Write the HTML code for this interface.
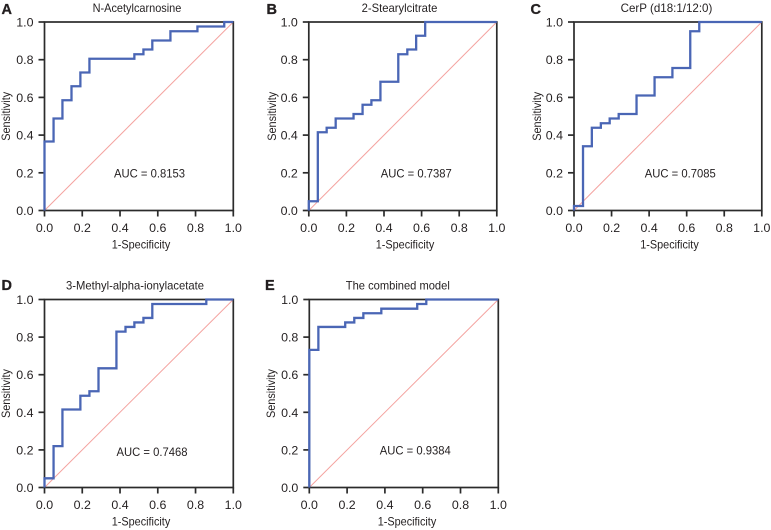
<!DOCTYPE html>
<html>
<head>
<meta charset="utf-8">
<style>
html,body{margin:0;padding:0;background:#fff;}
svg{display:block;}
text{font-family:"Liberation Sans",sans-serif;fill:#231f20;}
</style>
</head>
<body>
<svg id="fig" xmlns="http://www.w3.org/2000/svg" width="771" height="530" viewBox="0 0 771 530"></svg>
<script>
const tickLabels = ["0.0","0.2","0.4","0.6","0.8","1.0"];
const tickValues = [0,0.2,0.4,0.6,0.8,1];

const titleA = "N-Acetylcarnosine";
const aucA = "AUC = 0.8153";
const fprA = [0,0.048,0.095,0.143,0.19,0.238,0.476,0.524,0.571,0.667,0.81,0.952,1];
const tprA = [0.366,0.488,0.585,0.659,0.732,0.805,0.829,0.854,0.902,0.951,0.976,1,1];

const titleB = "2-Stearylcitrate";
const aucB = "AUC = 0.7387";
const fprB = [0,0.048,0.095,0.143,0.238,0.286,0.333,0.381,0.476,0.524,0.571,0.619,1];
const tprB = [0.049,0.415,0.439,0.488,0.512,0.561,0.585,0.683,0.829,0.854,0.927,1,1];

const titleC = "CerP (d18:1/12:0)";
const aucC = "AUC = 0.7085";
const fprC = [0,0.048,0.095,0.143,0.19,0.238,0.333,0.429,0.524,0.619,0.667,1];
const tprC = [0.024,0.341,0.439,0.463,0.488,0.512,0.61,0.707,0.756,0.951,1,1];

const titleD = "3-Methyl-alpha-ionylacetate";
const aucD = "AUC = 0.7468";
const fprD = [0,0.048,0.095,0.19,0.238,0.286,0.381,0.429,0.476,0.524,0.571,0.857,1];
const tprD = [0.049,0.22,0.415,0.488,0.512,0.634,0.829,0.854,0.878,0.902,0.976,1,1];

const titleE = "The combined model";
const aucE = "AUC = 0.9384";
const fprE = [0,0.048,0.19,0.238,0.286,0.381,0.571,0.619,1];
const tprE = [0.732,0.854,0.878,0.902,0.927,0.951,0.976,1,1];

const NS = "http://www.w3.org/2000/svg";
const fig = document.getElementById("fig");

function mk(parent, tag, attrs, txt) {
  const el = document.createElementNS(NS, tag);
  for (const k in attrs) el.setAttribute(k, attrs[k]);
  if (txt !== undefined) el.textContent = txt;
  parent.appendChild(el);
  return el;
}

function panel(o) {
  const {key, letter, lx, ly, x0, x1, y1, y0, title, titleX, titleW, auc, aucX, aucY, fpr, tpr, ylabX, xlabX} = o;
  const sx = v => x0 + (x1 - x0) * v;
  const sy = v => y0 - (y0 - y1) * v;
  const g = mk(fig, "g", {});
  
  

  const let_ = mk(g, "text", {x: lx, y: ly, "font-size": 14.5, "font-weight": "bold", stroke: "#231f20", "stroke-width": 0.3}, letter);
  
  

  const t = mk(g, "text", {x: titleX, y: y1 - 10, "font-size": 12, "text-anchor": "middle", textLength: titleW, lengthAdjust: "spacingAndGlyphs"}, title);
  
  

  const diag = mk(g, "line", {x1: sx(0), y1: sy(0), x2: sx(1), y2: sy(1), stroke: "#f4a3a0", "stroke-width": 1});
  
  

  const frame = mk(g, "rect", {x: x0, y: y1, width: x1 - x0, height: y0 - y1, fill: "none", stroke: "#2b2b2b", "stroke-width": 1.7});
  
  

  tickValues.forEach((v, i) => {
    const xt = mk(g, "line", {x1: sx(v), x2: sx(v), y1: y0, y2: y0 + 6, stroke: "#2b2b2b", "stroke-width": 1.7});
    
    
    const yt = mk(g, "line", {y1: sy(v), y2: sy(v), x1: x0, x2: x0 - 6, stroke: "#2b2b2b", "stroke-width": 1.7});
    
    
    const xl = mk(g, "text", {x: sx(v), y: y0 + 21.3, "font-size": 12.4, "text-anchor": "middle"}, tickLabels[i]);
    
    
    const yl = mk(g, "text", {x: x0 - 11, y: sy(v) + 4.5, "font-size": 12.4, "text-anchor": "end"}, tickLabels[i]);
    
    
  });

  let d = "M" + sx(0) + " " + sy(0);
  fpr.forEach((f, i) => {
    d += " L" + sx(f) + " " + sy(tpr[i]);
    if (i + 1 < fpr.length) d += " L" + sx(fpr[i + 1]) + " " + sy(tpr[i]);
  });
  const curve = mk(g, "path", {d: d, fill: "none", stroke: "#4a66b5", "stroke-width": 2.3, "stroke-linejoin": "miter"});
  
  

  const a = mk(g, "text", {x: aucX, y: aucY, "font-size": 12, "text-anchor": "middle", textLength: 71, lengthAdjust: "spacingAndGlyphs"}, auc);
  
  

  const xa = mk(g, "text", {x: xlabX, y: y0 + 38.2, "font-size": 11.6, "text-anchor": "middle", textLength: 58.5, lengthAdjust: "spacingAndGlyphs"}, "1-Specificity");
  
  

  const ymid = (y0 + y1) / 2;
  const ya = mk(g, "text", {x: ylabX, y: ymid, "font-size": 11.6, "text-anchor": "middle", textLength: 49, lengthAdjust: "spacingAndGlyphs", transform: "rotate(-90 " + ylabX + " " + ymid + ")"}, "Sensitivity");
  
  
}

panel({key:"a", letter:"A", lx:1.5, ly:14, x0:44.5, x1:233.3, y1:22, y0:210.5, title:titleA, titleX:137, titleW:88.7, auc:aucA, aucX:149.5, aucY:177.3, fpr:fprA, tpr:tprA, ylabX:10, xlabX:141});
panel({key:"b", letter:"B", lx:266.5, ly:14, x0:308.8, x1:496.8, y1:22, y0:210.5, title:titleB, titleX:399.5, titleW:75.7, auc:aucB, aucX:416.3, aucY:177.3, fpr:fprB, tpr:tprB, ylabX:276, xlabX:405});
panel({key:"c", letter:"C", lx:530.5, ly:14, x0:574, x1:761.8, y1:22, y0:210.5, title:titleC, titleX:666.5, titleW:91.7, auc:aucC, aucX:680.3, aucY:177.3, fpr:fprC, tpr:tprC, ylabX:541, xlabX:669.5});
panel({key:"d", letter:"D", lx:1.5, ly:290, x0:44.5, x1:233.3, y1:299.5, y0:487.5, title:titleD, titleX:135, titleW:138, auc:aucD, aucX:152, aucY:456, fpr:fprD, tpr:tprD, ylabX:10, xlabX:141});
panel({key:"e", letter:"E", lx:265, ly:290, x0:309.3, x1:498.3, y1:299.5, y0:487.5, title:titleE, titleX:397.8, titleW:104, auc:aucE, aucX:415.3, aucY:454.3, fpr:fprE, tpr:tprE, ylabX:275, xlabX:407});
</script>
</body>
</html>
